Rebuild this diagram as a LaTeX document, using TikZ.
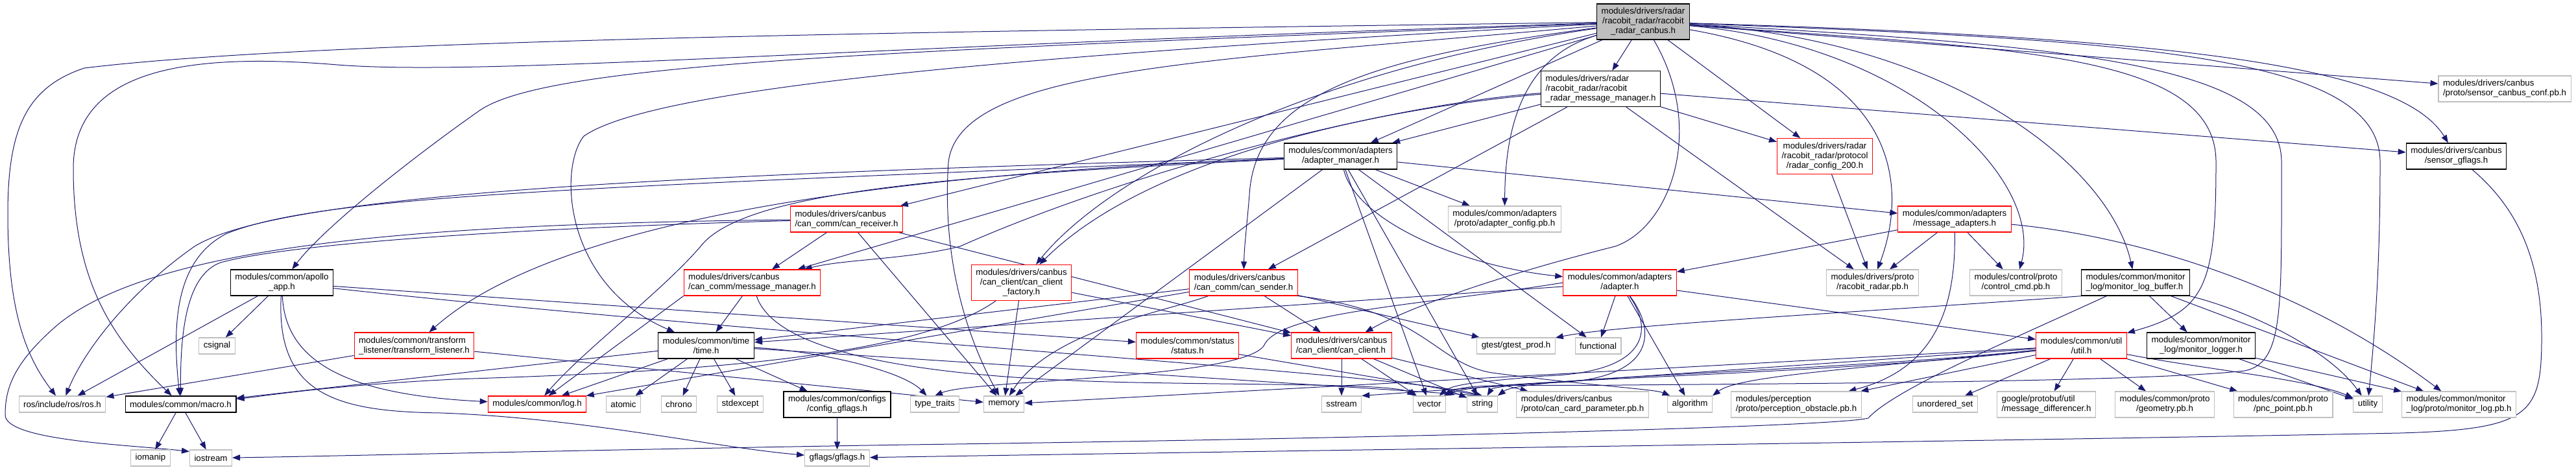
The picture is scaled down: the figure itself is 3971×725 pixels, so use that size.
\documentclass[tikz,border=0pt]{standalone}
\usepackage{fontspec}
\setmainfont{Liberation Sans}
\usepackage{tikz}
\usetikzlibrary{arrows.meta,backgrounds}
\definecolor{edgeclr}{RGB}{25,25,112}
\definecolor{sysclr}{RGB}{191,191,191}
\definecolor{cutclr}{RGB}{255,0,0}
\definecolor{rootclr}{RGB}{191,191,191}
\tikzset{
    hdr/.style={rectangle,draw=black,line width=1.3pt,fill=white,align=center,
        font=\fontsize{13.3pt}{15pt}\selectfont,inner xsep=7pt,inner ysep=2pt,minimum height=25pt},
    cuthdr/.style={hdr,draw=cutclr,line width=1.1pt},
    syshdr/.style={hdr,draw=sysclr,line width=1.1pt},
    roothdr/.style={hdr,fill=rootclr},
    two/.style={minimum height=40pt},
    three/.style={minimum height=55pt},
    lft/.style={align=left},
    incl/.style={draw=edgeclr,line width=1pt,-{Triangle[length=12pt,width=9pt]}},
}
\begin{document}
\begin{tikzpicture}[x=1pt,y=-1pt]
\useasboundingbox (0,0) rectangle (3971,725);
\node[roothdr,three] (root) at (2533,33.5) {modules/drivers/radar\\/racobit\_radar/racobit\\\_radar\_canbus.h};
\node[hdr,three,lft] (msgmgr) at (2467.5,137) {modules/drivers/radar\\/racobit\_radar/racobit\\\_radar\_message\_manager.h};
\node[hdr,two] (admgr) at (2066.5,241) {modules/common/adapters\\/adapter\_manager.h};
\node[syshdr,two] (adcfg) at (2319.5,338) {modules/common/adapters\\/proto/adapter\_config.pb.h};
\node[cuthdr,three] (radcfg) at (2813,241) {modules/drivers/radar\\/racobit\_radar/protocol\\/radar\_config\_200.h};
\node[cuthdr,two] (msgad) at (3013,338) {modules/common/adapters\\/message\_adapters.h};
\node[syshdr,two,lft] (sensconf) at (3861,137) {modules/drivers/canbus\\/proto/sensor\_canbus\_conf.pb.h};
\node[hdr,two] (sensgf) at (3786.5,241) {modules/drivers/canbus\\/sensor\_gflags.h};
\node[cuthdr,two,lft] (canrecv) at (1305,338) {modules/drivers/canbus\\/can\_comm/can\_receiver.h};
\node[hdr,two] (app) at (434.5,436) {modules/common/apollo\\\_app.h};
\node[syshdr] (csignal) at (334.5,533.5) {csignal};
\node[cuthdr,two,lft] (tflisten) at (638.5,533) {modules/common/transform\\\_listener/transform\_listener.h};
\node[syshdr] (ros) at (96,623.5) {ros/include/ros/ros.h};
\node[hdr] (macro) at (278.5,623.5) {modules/common/macro.h};
\node[syshdr] (iomanip) at (232,706.5) {iomanip};
\node[syshdr] (iostream) at (325,706.5) {iostream};
\node[cuthdr,two,lft] (canmsgmgr) at (1159.5,436) {modules/drivers/canbus\\/can\_comm/message\_manager.h};
\node[hdr,two] (time) at (1088.5,533) {modules/common/time\\/time.h};
\node[cuthdr] (log) at (828,623.5) {modules/common/log.h};
\node[syshdr] (atomic) at (961,623.5) {atomic};
\node[syshdr] (chrono) at (1046.5,623.5) {chrono};
\node[syshdr] (stdexcept) at (1141,623.5) {stdexcept};
\node[hdr,two] (cfggf) at (1290.5,624) {modules/common/configs\\/config\_gflags.h};
\node[syshdr] (gflags) at (1290.5,706.5) {gflags/gflags.h};
\node[cuthdr,three] (factory) at (1574.5,436) {modules/drivers/canbus\\/can\_client/can\_client\\\_factory.h};
\node[cuthdr,two,lft] (sender) at (1917,436) {modules/drivers/canbus\\/can\_comm/can\_sender.h};
\node[cuthdr,two] (status) at (1830.5,533) {modules/common/status\\/status.h};
\node[syshdr] (typetraits) at (1441,623.5) {type\_traits};
\node[syshdr] (memory) at (1547.5,623.5) {memory};
\node[cuthdr,two] (adapter) at (2497,436) {modules/common/adapters\\/adapter.h};
\node[cuthdr,two,lft] (client) at (2068,533) {modules/drivers/canbus\\/can\_client/can\_client.h};
\node[syshdr] (gtest) at (2337,533.5) {gtest/gtest\_prod.h};
\node[syshdr] (functional) at (2463.5,533.5) {functional};
\node[syshdr] (sstream) at (2068,623.5) {sstream};
\node[syshdr] (vector) at (2203.5,623.5) {vector};
\node[syshdr] (string) at (2285,623.5) {string};
\node[syshdr,two,lft] (cardparam) at (2439.5,624) {modules/drivers/canbus\\/proto/can\_card\_parameter.pb.h};
\node[syshdr] (algorithm) at (2605,623.5) {algorithm};
\node[syshdr,two] (radarpb) at (2886.5,436) {modules/drivers/proto\\/racobit\_radar.pb.h};
\node[syshdr,two] (ctrlcmd) at (3107.5,436) {modules/control/proto\\/control\_cmd.pb.h};
\node[hdr,two,lft] (monbuf) at (3292,436) {modules/common/monitor\\\_log/monitor\_log\_buffer.h};
\node[cuthdr,two] (util) at (3208.5,533) {modules/common/util\\/util.h};
\node[syshdr,two,lft] (perception) at (2769,624) {modules/perception\\/proto/perception\_obstacle.pb.h};
\node[syshdr] (uset) at (2998.5,623.5) {unordered\_set};
\node[syshdr,two,lft] (msgdiff) at (3154.5,624) {google/protobuf/util\\/message\_differencer.h};
\node[syshdr,two] (geometry) at (3337,624) {modules/common/proto\\/geometry.pb.h};
\node[hdr,two] (monlogger) at (3393,533) {modules/common/monitor\\\_log/monitor\_logger.h};
\node[syshdr,two] (pnc) at (3519.5,624) {modules/common/proto\\/pnc\_point.pb.h};
\node[syshdr] (utility) at (3650,623.5) {utility};
\node[syshdr,two,lft] (monlogpb) at (3790.5,624) {modules/common/monitor\\\_log/proto/monitor\_log.pb.h};
\begin{scope}[on background layer]
\foreach \a/\b in {root/msgmgr,root/admgr,root/radcfg,root/sensconf,root/canrecv,root/canmsgmgr,
    msgmgr/admgr,msgmgr/radcfg,msgmgr/sensgf,msgmgr/radarpb,msgmgr/sender,
    admgr/adcfg,admgr/msgad,admgr/memory,admgr/functional,admgr/vector,admgr/string,
    radcfg/radarpb,msgad/adapter,msgad/radarpb,msgad/ctrlcmd,
    app/csignal,app/ros,app/status,tflisten/ros,tflisten/memory,
    macro/iomanip,macro/iostream,canrecv/canmsgmgr,canrecv/client,canrecv/memory,
    canmsgmgr/time,canmsgmgr.south west/log,
    time/atomic,time/chrono,time/stdexcept,time/cfggf,time/log,time/macro,time/string.north,
    cfggf/gflags,factory/client,factory/memory,
    sender/client,sender/log,sender/time,sender/gtest,
    client/sstream,client/vector,client/string,client/cardparam,
    adapter/functional,adapter/util,adapter/time,adapter/algorithm,
    status/string.north,
    util/uset,util/msgdiff,util/geometry,util/pnc,util/memory,util/sstream.north east,util/perception,
    monbuf/monlogger,monbuf/monlogpb,monlogger/utility,monlogger/monlogpb}
  \draw[incl] (\a) -- (\b);
\draw[incl] (root) .. controls (1500,48) and (500,60) .. (130,105) .. controls (40,135) and (12,200) .. (12,330) .. controls (12,480) and (40,550) .. (ros);
\draw[incl] (root) .. controls (1300,72) and (750,118) .. (520,100) .. controls (280,80) and (113,110) .. (113,260) .. controls (113,430) and (170,520) .. (macro);
\draw[incl] (root) .. controls (1400,78) and (850,95) .. (740,170) .. controls (640,240) and (500,350) .. (app);
\draw[incl] (root) .. controls (1500,88) and (1000,140) .. (900,210) .. controls (860,260) and (870,440) .. (time);
\draw[incl] (root) .. controls (1850,95) and (1480,105) .. (1462,250) .. controls (1452,400) and (1490,520) .. (memory);
\draw[incl] (root) .. controls (2000,110) and (1700,280) .. (factory);
\draw[incl] (root) .. controls (2100,90) and (1935,150) .. (1926,300) .. controls (1922,350) and (1918,380) .. (sender);
\draw[incl] (root) .. controls (2630,200) and (2575,350) .. (2490,380) .. controls (2330,420) and (2180,470) .. (client);
\draw[incl] (root) .. controls (2340,90) and (2320,210) .. (adcfg);
\draw[incl] (root) .. controls (2920,100) and (2945,280) .. (radarpb);
\draw[incl] (root) .. controls (2950,70) and (3150,280) .. (ctrlcmd);
\draw[incl] (root) .. controls (3000,60) and (3250,250) .. (monbuf);
\draw[incl] (root) .. controls (3100,75) and (3416,80) .. (3416,250) .. controls (3416,440) and (3400,480) .. (util);
\draw[incl] (root) .. controls (3200,70) and (3517,100) .. (3517,250) .. controls (3517,480) and (3520,560) .. (3460,572) .. controls (3300,590) and (2700,592) .. (2500,594) .. controls (2350,596) and (2260,590) .. (vector);
\draw[incl] (root) .. controls (3300,62) and (3669,85) .. (3669,250) .. controls (3669,420) and (3660,520) .. (utility);
\draw[incl] (root) .. controls (3350,58) and (3700,100) .. (sensgf);
\draw[incl] (msgmgr) .. controls (2150,160) and (1750,260) .. (1480,380) .. controls (1400,400) and (1300,400) .. (canmsgmgr);
\draw[incl] (msgmgr) .. controls (2100,170) and (1760,250) .. (factory);
\draw[incl] (admgr) .. controls (1600,260) and (900,300) .. (tflisten);
\draw[incl] (admgr) .. controls (1000,270) and (430,300) .. (300,380) .. controls (200,450) and (130,540) .. (ros);
\draw[incl] (admgr) .. controls (900,290) and (500,300) .. (350,360) .. controls (270,400) and (265,500) .. (macro);
\draw[incl] (admgr) .. controls (1500,270) and (1150,290) .. (1080,380) .. controls (1020,450) and (900,540) .. (log);
\draw[incl] (admgr) .. controls (2090,340) and (2250,410) .. (adapter);
\draw[incl] (msgad) .. controls (3015,480) and (2980,570) .. (perception);
\draw[incl] (msgad) .. controls (3250,360) and (3520,420) .. (monlogpb);
\draw[incl] (sensgf) .. controls (3880,320) and (3918,400) .. (3918,520) .. controls (3918,640) and (3900,662) .. (3700,668) .. controls (3100,680) and (1800,698) .. (gflags);
\draw[incl] (canrecv) .. controls (700,345) and (250,370) .. (90,500) .. controls (20,560) and (8,600) .. (8,640) .. controls (8,680) and (200,686) .. ([yshift=10pt]iostream.west);
\draw[incl] (canrecv) .. controls (800,352) and (450,375) .. (340,405) .. controls (285,425) and (278,520) .. (macro);
\draw[incl] (app) .. controls (440,570) and (560,610) .. (log);
\draw[incl] (app) .. controls (425,610) and (520,635) .. (680,637) .. controls (900,645) and (1100,690) .. (gflags);
\draw[incl] (app) .. controls (1200,520) and (2150,575) .. (string.north);
\draw[incl] (canmsgmgr) .. controls (1200,560) and (1500,585) .. (1750,590) .. controls (1950,594) and (2150,592) .. (vector);
\draw[incl] (time) .. controls (1250,540) and (1390,570) .. (typetraits);
\draw[incl] (factory) .. controls (1400,560) and (1000,575) .. (700,585) .. controls (500,595) and (400,612) .. (macro);
\draw[incl] (sender.south east) .. controls (2200,480) and (2210,560) .. (2300,575) .. controls (2450,595) and (2550,600) .. (algorithm);
\draw[incl] (sender) .. controls (1800,480) and (1620,510) .. (memory);
\draw[incl] (adapter) .. controls (2550,510) and (2540,575) .. (2380,580) .. controls (2290,588) and (2240,592) .. (vector);
\draw[incl] (adapter) .. controls (2560,520) and (2540,585) .. (2400,590) .. controls (2340,592) and (2300,598) .. (string);
\draw[incl] (adapter.west) .. controls (2200,470) and (1980,480) .. (1950,530) .. controls (1930,585) and (1500,585) .. (typetraits.north);
\draw[incl] (util) .. controls (3400,570) and (3560,585) .. (utility);
\draw[incl] (util) .. controls (2800,575) and (2350,580) .. (string.north east);
\draw[incl] (util) .. controls (2800,580) and (2280,585) .. (vector.north east);
\draw[incl] (util) .. controls (2850,570) and (2680,580) .. (algorithm.north east);
\draw[incl] (monbuf) .. controls (3470,480) and (3590,540) .. (utility);
\draw[incl] (monbuf) .. controls (3110,520) and (2920,600) .. (2880,645) .. controls (2820,660) and (2000,678) .. (1400,686) .. controls (900,694) and (500,704) .. (iostream);
\draw[incl] (monbuf.south west) .. controls (2900,480) and (2500,500) .. (gtest);
\end{scope}
\end{tikzpicture}
\end{document}
